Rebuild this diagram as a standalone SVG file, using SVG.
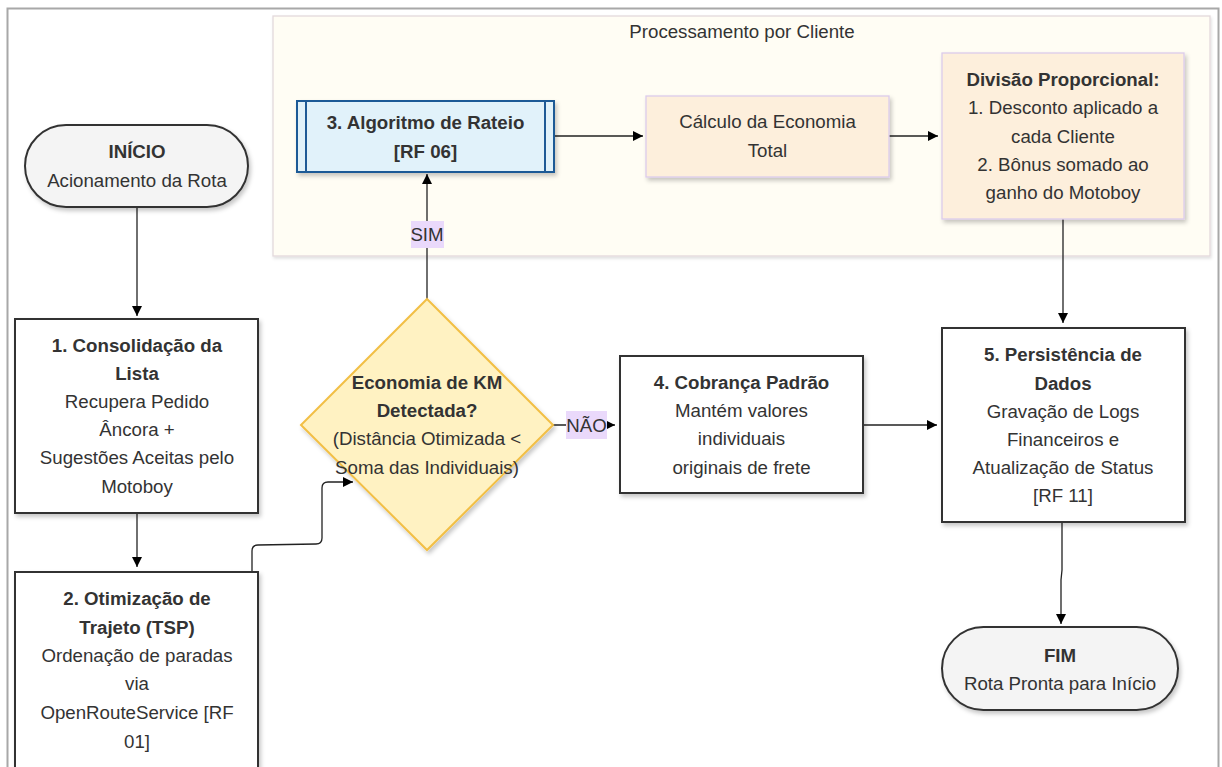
<svg xmlns="http://www.w3.org/2000/svg" width="1222" height="767" viewBox="0 0 1222 767">
<style>
text{font-family:"Liberation Sans",Arial,Helvetica,sans-serif;font-size:18.7px;fill:#333;text-anchor:middle}
.b{font-weight:bold}
.box{fill:#fff;stroke:#333;stroke-width:2}
.term{fill:#f4f4f4;stroke:#333;stroke-width:2}
.peach{fill:#fdefdc;stroke:#dccbec;stroke-width:1.3}
.edge{fill:none;stroke:#222;stroke-width:1.3}
.lbl{fill:#ead9fb}
</style>
<defs>
<marker id="ah" markerUnits="userSpaceOnUse" markerWidth="11" markerHeight="11" refX="10" refY="5" orient="auto">
<path d="M0,0 L10,5 L0,10 z" fill="#000"/>
</marker>
<filter id="sh" x="-10%" y="-10%" width="130%" height="130%">
<feDropShadow dx="2" dy="3" stdDeviation="2" flood-color="#000" flood-opacity="0.22"/>
</filter>
<filter id="shc" x="-5%" y="-5%" width="110%" height="115%">
<feDropShadow dx="1" dy="2" stdDeviation="1.5" flood-color="#000" flood-opacity="0.12"/>
</filter>
</defs>
<rect x="0" y="0" width="1222" height="767" fill="#fff"/>
<rect x="7.5" y="8.5" width="1211" height="775" fill="#fff" stroke="#a8a8a8" stroke-width="2"/>

<g id="cluster">
<rect x="273" y="16" width="937" height="240" fill="#fffdf4" stroke="#e3d9dc" stroke-width="1.3" filter="url(#shc)"/>
<text x="742" y="38">Processamento por Cliente</text>
</g>

<g id="connectors">
<path class="edge" d="M137,207 L137,316" marker-end="url(#ah)"/>
<path class="edge" d="M137,513 L137,567" marker-end="url(#ah)"/>
<path class="edge" d="M252,572 L252,551 Q252,545 258,545 L316,544 Q322,544 322,538 L322,488 Q322,482 328,482 L353,482" marker-end="url(#ah)"/>
<path class="edge" d="M427,299 L427,174" marker-end="url(#ah)"/>
<path class="edge" d="M553,425 L615,425" marker-end="url(#ah)"/>
<path class="edge" d="M554,136 L643,136" marker-end="url(#ah)"/>
<path class="edge" d="M889,136 L938,136" marker-end="url(#ah)"/>
<path class="edge" d="M1063,219 L1063,323" marker-end="url(#ah)"/>
<path class="edge" d="M863,425 L937,425" marker-end="url(#ah)"/>
<path class="edge" d="M1062,522 L1062,570 L1061,580 L1061,624" marker-end="url(#ah)"/>
<rect class="lbl" x="411" y="221" width="33" height="27"/>
<text x="427" y="241">SIM</text>
<rect class="lbl" x="566" y="411" width="41" height="28"/>
<text x="586.5" y="431.5">NÃO</text>
</g>

<g id="inicio">
<rect class="term" x="25" y="125" width="223" height="82" rx="41" ry="41" filter="url(#sh)"/>
<text class="b" x="137" y="158">INÍCIO</text>
<text x="137" y="187">Acionamento da Rota</text>
</g>

<g id="n1">
<rect class="box" x="15" y="319" width="243" height="194" filter="url(#sh)"/>
<text class="b" x="137" y="352">1. Consolidação da</text>
<text class="b" x="137" y="380">Lista</text>
<text x="137" y="408">Recupera Pedido</text>
<text x="137" y="436">Âncora +</text>
<text x="137" y="464">Sugestões Aceitas pelo</text>
<text x="137" y="493">Motoboy</text>
</g>

<g id="n2">
<rect class="box" x="15" y="572" width="243" height="196" filter="url(#sh)"/>
<text class="b" x="137" y="605">2. Otimização de</text>
<text class="b" x="137" y="634">Trajeto (TSP)</text>
<text x="137" y="662">Ordenação de paradas</text>
<text x="137" y="690">via</text>
<text x="137" y="719">OpenRouteService [RF</text>
<text x="137" y="748">01]</text>
</g>

<g id="decision">
<polygon points="427,299 553,425 427,550 301,425" fill="#fff2c2" stroke="#f2bf45" stroke-width="2" filter="url(#sh)"/>
<text class="b" x="427" y="389">Economia de KM</text>
<text class="b" x="427" y="417">Detectada?</text>
<text x="427" y="445">(Distância Otimizada &lt;</text>
<text x="427" y="474">Soma das Individuais)</text>
</g>

<g id="n3">
<rect x="297" y="101" width="257" height="71" fill="#e1f2fa" stroke="#1e5a96" stroke-width="2" filter="url(#sh)"/>
<line x1="306" y1="101" x2="306" y2="172" stroke="#1e5a96" stroke-width="2"/>
<line x1="545" y1="101" x2="545" y2="172" stroke="#1e5a96" stroke-width="2"/>
<text class="b" x="425.5" y="129">3. Algoritmo de Rateio</text>
<text class="b" x="425.5" y="158">[RF 06]</text>
</g>

<g id="calculo">
<rect class="peach" x="646" y="96" width="243" height="81" filter="url(#sh)"/>
<text x="767.5" y="128">Cálculo da Economia</text>
<text x="767.5" y="157">Total</text>
</g>

<g id="divisao">
<rect class="peach" x="942" y="53" width="242" height="166" filter="url(#sh)"/>
<text class="b" x="1063" y="86">Divisão Proporcional:</text>
<text x="1063" y="114">1. Desconto aplicado a</text>
<text x="1063" y="143">cada Cliente</text>
<text x="1063" y="171">2. Bônus somado ao</text>
<text x="1063" y="199">ganho do Motoboy</text>
</g>

<g id="n4">
<rect class="box" x="620" y="356" width="243" height="137" filter="url(#sh)"/>
<text class="b" x="741.5" y="389">4. Cobrança Padrão</text>
<text x="741.5" y="417">Mantém valores</text>
<text x="741.5" y="445">individuais</text>
<text x="741.5" y="474">originais de frete</text>
</g>

<g id="n5">
<rect class="box" x="942" y="328" width="243" height="194" filter="url(#sh)"/>
<text class="b" x="1063" y="361">5. Persistência de</text>
<text class="b" x="1063" y="390">Dados</text>
<text x="1063" y="418">Gravação de Logs</text>
<text x="1063" y="446">Financeiros e</text>
<text x="1063" y="474">Atualização de Status</text>
<text x="1063" y="502">[RF 11]</text>
</g>

<g id="fim">
<rect class="term" x="942" y="627" width="236" height="83" rx="41.5" ry="41.5" filter="url(#sh)"/>
<text class="b" x="1060" y="662">FIM</text>
<text x="1060" y="690">Rota Pronta para Início</text>
</g>
</svg>
